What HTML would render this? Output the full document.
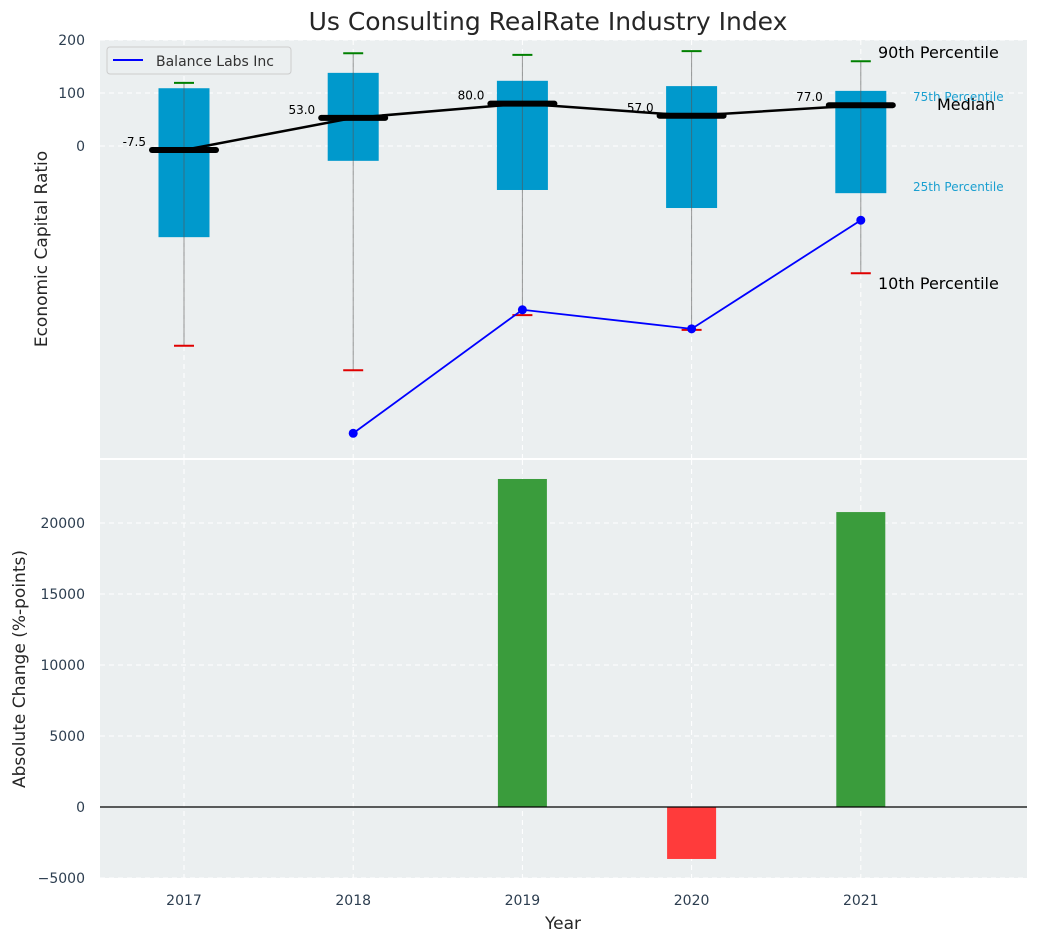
<!DOCTYPE html>
<html><head><meta charset="utf-8"><style>
body{margin:0;background:#fff}
svg{font-family:"DejaVu Sans","Liberation Sans",sans-serif;display:block}
</style></head><body>
<svg id="c" width="1039" height="942">
<text x="548" y="30" text-anchor="middle" font-size="25" fill="#262626">Us Consulting RealRate Industry Index</text>
<rect x="100" y="40" width="927" height="418" fill="#ebeff0"/>
<rect x="100" y="460" width="927" height="418" fill="#ebeff0"/>
<g id="topg"></g><g id="botg"></g>
<text transform="translate(47,249) rotate(-90)" text-anchor="middle" font-size="17" fill="#262626">Economic Capital Ratio</text>
<text transform="translate(25,669) rotate(-90)" text-anchor="middle" font-size="17" fill="#262626">Absolute Change (%-points)</text>
<text x="563" y="929" text-anchor="middle" font-size="17" fill="#262626">Year</text>
<g>
<rect x="107" y="47" width="184" height="27" rx="3" fill="#ebeff0" stroke="#ccc"/>
<line x1="113" y1="60" x2="143" y2="60" stroke="#0000ff" stroke-width="2"/>
<text x="156" y="66" font-size="14" fill="#333">Balance Labs Inc</text>
</g>
<text x="878" y="58" font-size="16" fill="#000">90th Percentile</text>
<text x="913" y="101" font-size="12" fill="#1a9fd0">75th Percentile</text>
<text x="937" y="110" font-size="16" fill="#000">Median</text>
<text x="913" y="191" font-size="12" fill="#1a9fd0">25th Percentile</text>
<text x="878" y="289" font-size="16" fill="#000">10th Percentile</text>
</svg>
<script>
const years=[2017,2018,2019,2020,2021];
const p90=[119,175,172,179,160];
const p75=[109,138,123,113,104];
const med=[-7.5,53,80,57,77];
const p25=[-172,-28,-83,-117,-89];
const p10=[-377,-423,-319,-347,-240];
const compYears=[2018,2019,2020,2021];
const compVals=[-542,-309,-345,-140];
const changes=[0,0,23100,-3660,20770];
const topTicks=[0,100,200];
const botTicks=[-5000,0,5000,10000,15000,20000];
const NS="http://www.w3.org/2000/svg";
const X=y=>184+(y-2017)*169.2;
const YT=v=>146-v*0.53;
const YB=v=>807-v*0.0142;
function el(p,t,a){const e=document.createElementNS(NS,t);for(const k in a)e.setAttribute(k,a[k]);p.appendChild(e);return e;}
const topG=document.getElementById('topg'),botG=document.getElementById('botg');
const svgRoot=document.getElementById('c');
years.forEach(y=>{
  let g=el(topG,'line',{x1:X(y),x2:X(y),y1:40,y2:458,stroke:'#fff','stroke-dasharray':'5,4','stroke-width':1});
  
  
  g=el(botG,'line',{x1:X(y),x2:X(y),y1:460,y2:878,stroke:'#fff','stroke-dasharray':'5,4','stroke-width':1});
  
  
  const t=el(svgRoot,'text',{x:X(y),y:905,'text-anchor':'middle','font-size':14,fill:'#2d3e50'});
  t.textContent=y;
  
  
});
topTicks.forEach(v=>{
  const g=el(topG,'line',{x1:100,x2:1027,y1:YT(v),y2:YT(v),stroke:'#fff','stroke-dasharray':'5,4'});
  
  
  const t=el(topG,'text',{x:85,y:YT(v)+5,'text-anchor':'end','font-size':14,fill:'#2d3e50'});
  t.textContent=v;
  
  
});
botTicks.forEach(v=>{
  const g=el(botG,'line',{x1:100,x2:1027,y1:YB(v),y2:YB(v),stroke:'#fff','stroke-dasharray':'5,4'});
  
  
  const t=el(botG,'text',{x:85,y:YB(v)+5,'text-anchor':'end','font-size':14,fill:'#2d3e50'});
  t.textContent=v<0?'\u2212'+Math.abs(v):v;
  
  
});
years.forEach((y,i)=>{
  const x=X(y);
  let b=el(topG,'rect',{x:x-25.5,y:YT(p75[i]),width:51,height:YT(p25[i])-YT(p75[i]),fill:'#0099cc'});
  
  
  let w=el(topG,'line',{x1:x,x2:x,y1:YT(p90[i]),y2:YT(p10[i]),stroke:'#555','stroke-width':1,opacity:0.6});
  
  
  let c1=el(topG,'line',{x1:x-10,x2:x+10,y1:YT(p90[i]),y2:YT(p90[i]),stroke:'#008000','stroke-width':2});
  
  
  let c2=el(topG,'line',{x1:x-10,x2:x+10,y1:YT(p10[i]),y2:YT(p10[i]),stroke:'#e00000','stroke-width':2});
  
  
});
let mp=years.map((y,i)=>X(y)+','+YT(med[i])).join(' ');
let ml=el(topG,'polyline',{points:mp,fill:'none',stroke:'#000','stroke-width':2.5});


years.forEach((y,i)=>{
  const x=X(y);
  let m=el(topG,'line',{x1:x-32,x2:x+32,y1:YT(med[i]),y2:YT(med[i]),stroke:'#000','stroke-width':6,'stroke-linecap':'round'});
  
  
  let t=el(topG,'text',{x:x-38,y:YT(med[i])-4,'text-anchor':'end','font-size':12,fill:'#000'});
  t.textContent=med[i].toFixed(1);
  
  
});
let cp=compYears.map((y,i)=>X(y)+','+YT(compVals[i])).join(' ');
let cl=el(topG,'polyline',{points:cp,fill:'none',stroke:'#0000ff','stroke-width':1.8});


compYears.forEach((y,i)=>{
  let p=el(topG,'circle',{cx:X(y),cy:YT(compVals[i]),r:4.5,fill:'#0000ff'});
  
  
});
years.forEach((y,i)=>{
  const v=changes[i];if(v===0)return;
  const y0=YB(0),y1=YB(v);
  let r=el(botG,'rect',{x:X(y)-24.5,y:Math.min(y0,y1),width:49,height:Math.abs(y1-y0),fill:v>0?'#3a9c3c':'#ff3b3b'});
  
  
});
let z=el(botG,'line',{x1:100,x2:1027,y1:YB(0),y2:YB(0),stroke:'#000','stroke-width':1.2});


</script>
</body></html>
